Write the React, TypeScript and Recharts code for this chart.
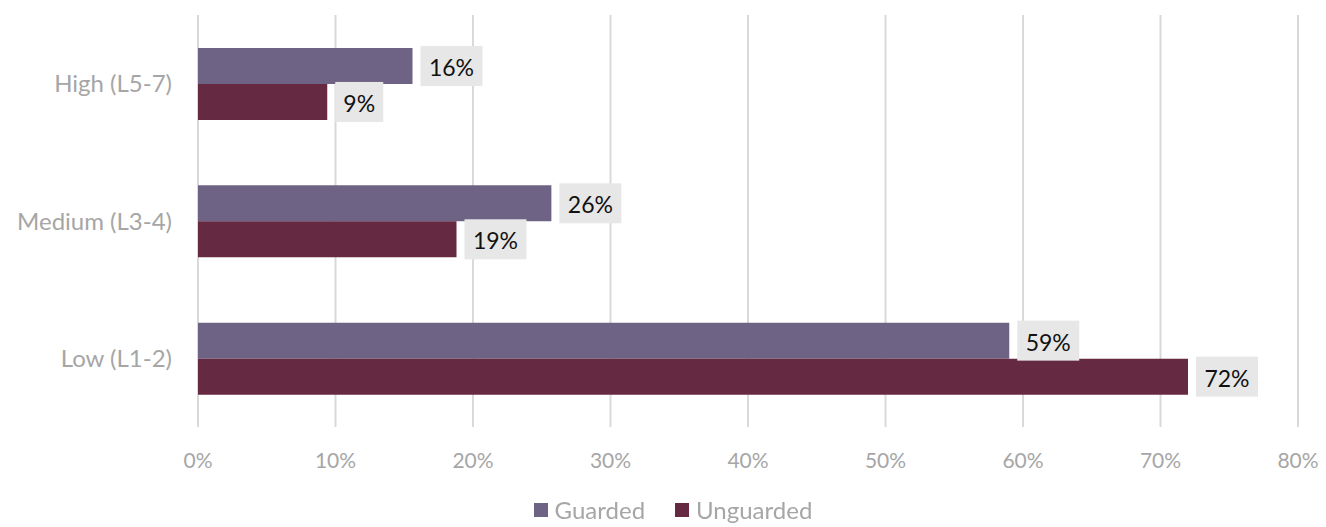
import React from "react";
import {
  BarChart,
  Bar,
  XAxis,
  YAxis,
  CartesianGrid,
  Legend,
  LabelList,
} from "recharts";

const categories = ["High (L5-7)", "Medium (L3-4)", "Low (L1-2)"];
const guarded = [15.6, 25.7, 59.0];
const unguarded = [9.4, 18.8, 72.0];
const xTicks = [0, 10, 20, 30, 40, 50, 60, 70, 80];

const data = categories.map((level, i) => ({
  level,
  guarded: guarded[i],
  unguarded: unguarded[i],
}));

const FONT = "Lato, 'Open Sans', sans-serif";
const GUARDED_COLOR = "#6F6385";
const UNGUARDED_COLOR = "#652A41";

const ValueBox = (props: any) => {
  const { x, y, width, height, value } = props;
  const text = `${Math.round(value)}%`;
  const digits = text.length - 1;
  const boxW = 34 + 14 * digits;
  const boxH = 40;
  const bx = x + width + 8;
  const cy = y + height / 2;
  return (
    <g>
      <rect x={bx} y={cy - boxH / 2} width={boxW} height={boxH} fill="#E7E7E7" />
      <text
        x={bx + boxW / 2}
        y={cy + 1}
        textAnchor="middle"
        dominantBaseline="central"
        fontFamily={FONT}
        fontSize={23}
        fill="#111"
      >
        {text}
      </text>
    </g>
  );
};

const LegendContent = () => (
  <div
    style={{
      display: "flex",
      justifyContent: "center",
      gap: 30,
      fontFamily: FONT,
      fontSize: 24,
      lineHeight: "28px",
      color: "#A6A6A6",
      paddingLeft: 20,
    }}
  >
    {[
      { name: "Guarded", color: GUARDED_COLOR },
      { name: "Unguarded", color: UNGUARDED_COLOR },
    ].map((item) => (
      <span key={item.name} style={{ display: "flex", alignItems: "center" }}>
        <span
          style={{
            display: "inline-block",
            width: 14,
            height: 14,
            background: item.color,
            marginRight: 7,
          }}
        />
        {item.name}
      </span>
    ))}
  </div>
);

export default function App() {
  return (
    <div style={{ position: "fixed", left: 0, top: 0, background: "#fff" }}>
      <BarChart
        width={1326}
        height={527}
        data={data}
        layout="vertical"
        margin={{ top: 15, right: 28, left: 0, bottom: 0 }}
        barCategoryGap="24%"
        barGap={0}
      >
        <CartesianGrid horizontal={false} stroke="#D9D9D9" strokeWidth={2} />
        <XAxis
          type="number"
          domain={[0, 80]}
          ticks={xTicks}
          tickFormatter={(v) => `${v}%`}
          axisLine={false}
          tickLine={false}
          tickSize={0}
          tickMargin={26}
          height={62}
          tick={{ fontSize: 21, fill: "#A6A6A6", fontFamily: FONT }}
        />
        <YAxis
          type="category"
          dataKey="level"
          width={198}
          axisLine={false}
          tickLine={false}
          tickSize={0}
          tickMargin={26}
          tick={{ fontSize: 24, fill: "#A6A6A6", fontFamily: FONT }}
        />
        <Legend
          verticalAlign="bottom"
          height={38}
          wrapperStyle={{ top: 496, left: 0, width: 1326 }}
          content={<LegendContent />}
        />
        <Bar dataKey="guarded" name="Guarded" fill={GUARDED_COLOR} isAnimationActive={false}>
          <LabelList dataKey="guarded" content={<ValueBox />} />
        </Bar>
        <Bar dataKey="unguarded" name="Unguarded" fill={UNGUARDED_COLOR} isAnimationActive={false}>
          <LabelList dataKey="unguarded" content={<ValueBox />} />
        </Bar>
      </BarChart>
    </div>
  );
}
